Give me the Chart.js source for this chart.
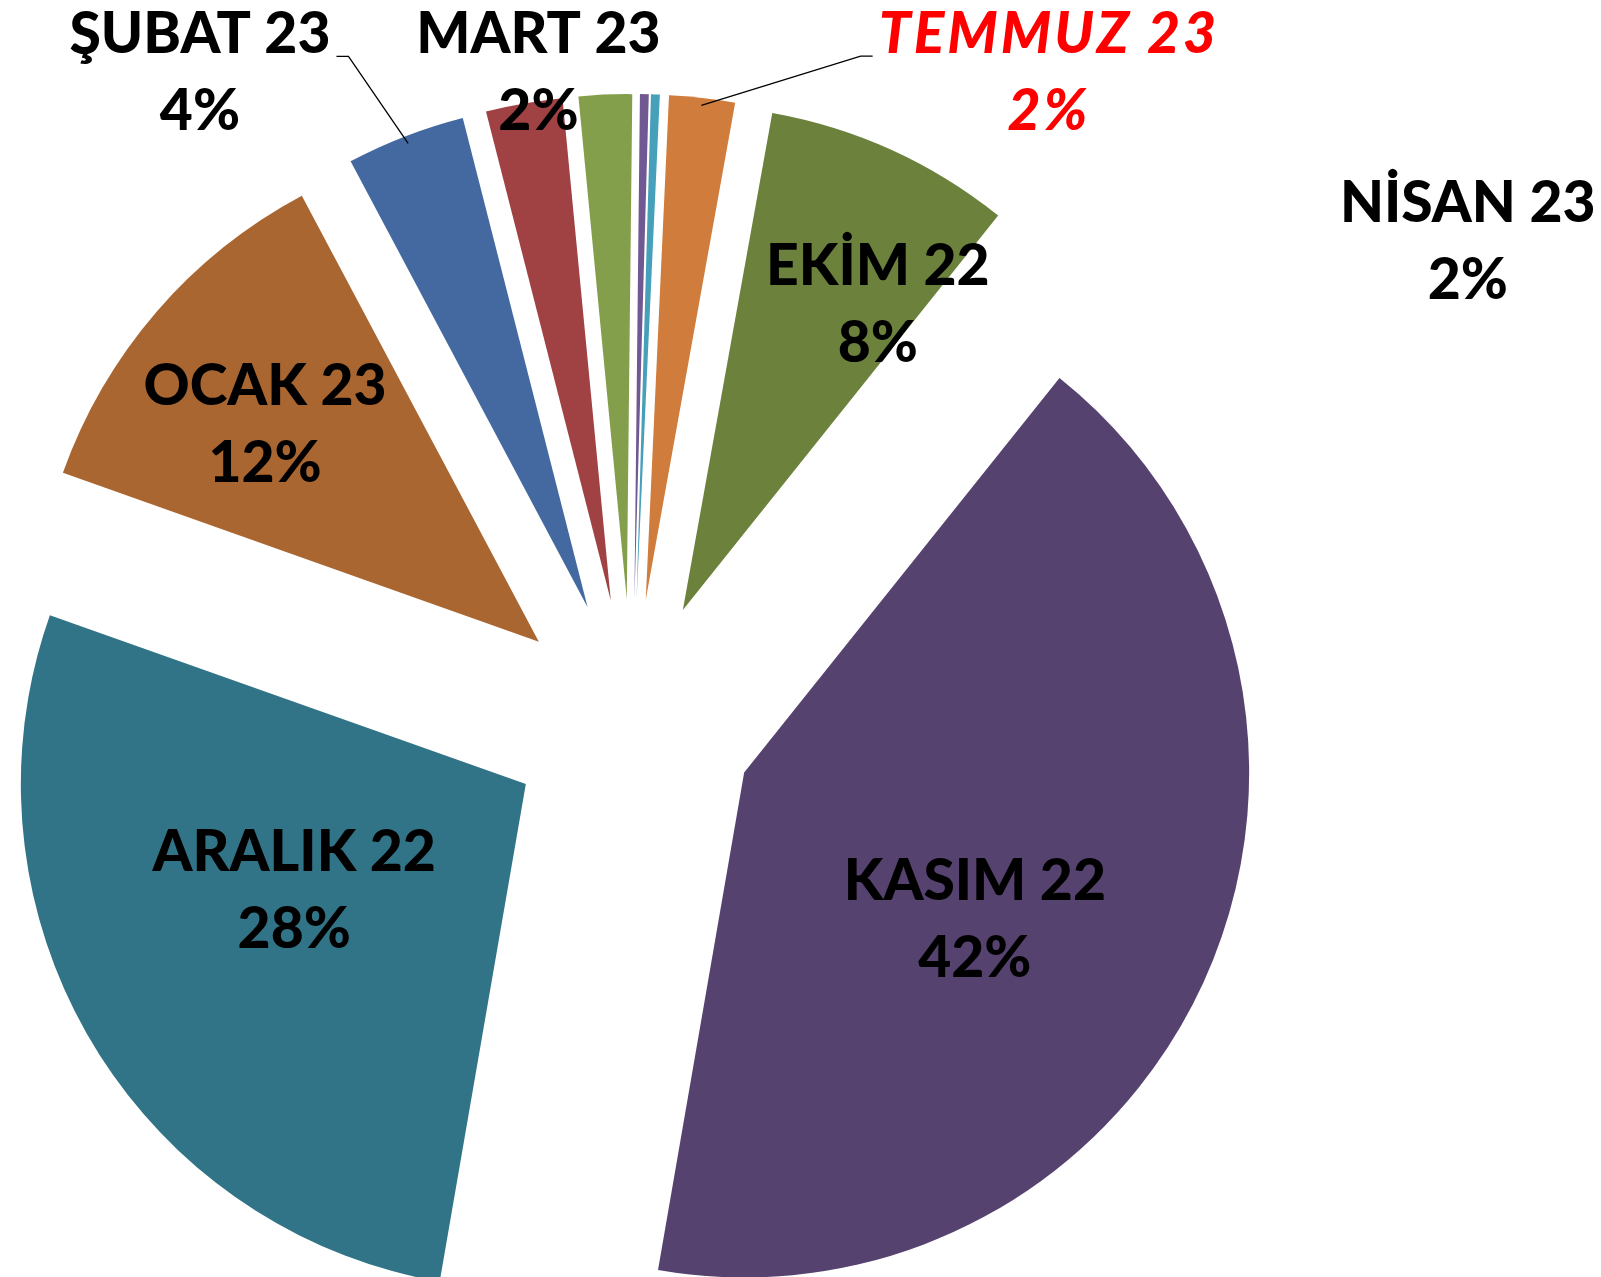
<!DOCTYPE html>
<html>
<head>
<meta charset="utf-8">
<script src="https://cdn.jsdelivr.net/npm/chart.js@4.4.0/dist/chart.umd.min.js"></script>
<style>
    html, body { margin: 0; padding: 0; background: #fff; }
</style>
</head>
<body>
<canvas id="myChart" width="1601" height="1277"></canvas>
<script>
// aylar (saat yönünde, EKİM'den başlayarak)
const months = ['EKİM 22', 'KASIM 22', 'ARALIK 22', 'OCAK 23', 'ŞUBAT 23', 'MART 23', 'NİSAN 23', 'MAYIS 23', 'HAZİRAN 23', 'TEMMUZ 23'];
const shares = [7.9, 42.0, 27.7, 11.8, 3.8, 2.45, 1.7, 0.28, 0.28, 2.1];
const sliceColors = ['#6B813C', '#55426F', '#327487', '#AA6630', '#4369A0', '#A04244', '#849F4B', '#705892', '#46A0BA', '#D07C3C'];

const EXPLODE = 123;   // dilimlerin merkezden kayması (px)
const LINE_GAP = 77;
const FONT = '900 57px Lato';

// etiket yerleşimi: açı (tepeden saat yönünde, derece), merkezden uzaklık (yarıçap oranı)
const labelLayout = [
    { name: 'EKİM 22', ang: 30.5, dist: 0.959 },
    { name: 'KASIM 22', ang: 120.0, dist: 0.784 },
    { name: 'ARALIK 22', ang: 243.4, dist: 0.748 },
    { name: 'OCAK 23', ang: 309.0, dist: 0.935 },
    { name: 'ŞUBAT 23', ang: 326.35, dist: 1.544, leader: 1 },
    { name: 'MART 23', ang: 351.8, dist: 1.299 },
    { name: 'NİSAN 23', ang: 60.16, dist: 1.908 },
    { name: 'TEMMUZ 23', ang: 32.7, dist: 1.528, leader: -1, color: '#FF0000', italic: true, spacing: '3px' }
];

// patlatılmış dilim: her dilim kendi orta açısı yönünde sabit miktarda kayar
Chart.ArcElement.prototype.draw = function (c) {
    const o = this.options;
    if (!this.circumference) return;
    const mid = (this.startAngle + this.endAngle) / 2;
    c.save();
    c.translate(Math.cos(mid) * o.offset, Math.sin(mid) * o.offset);
    c.beginPath();
    c.moveTo(this.x, this.y);
    c.arc(this.x, this.y, this.outerRadius, this.startAngle, this.endAngle);
    c.closePath();
    c.fillStyle = o.backgroundColor;
    c.fill();
    c.restore();
};

const sliceLabels = {
    id: 'sliceLabels',
    afterDatasetsDraw(chart) {
        const c = chart.ctx;
        const arcs = chart.getDatasetMeta(0).data;
        const total = shares.reduce((a, b) => a + b, 0);
        c.save();
        c.textAlign = 'center';
        c.textBaseline = 'middle';
        labelLayout.forEach((l) => {
            const i = months.indexOf(l.name);
            const arc = arcs[i];
            const R = arc.outerRadius;
            const a = l.ang * Math.PI / 180;
            const x = arc.x + Math.sin(a) * R * l.dist;
            const y = arc.y - Math.cos(a) * R * l.dist;
            c.font = (l.italic ? 'italic ' : '') + FONT;
            c.letterSpacing = l.spacing || '0px';
            c.fillStyle = l.color || '#000';
            c.fillText(months[i], x, y - LINE_GAP / 2);
            c.fillText(Math.round(shares[i] / total * 100) + '%', x, y + LINE_GAP / 2);
            if (l.leader) {
                const w = c.measureText(months[i]).width;
                const y0 = y - LINE_GAP / 2 + 22;
                const x0 = x + l.leader * (w / 2 + 6);
                const x1 = x0 + l.leader * 12;
                const mid = (arc.startAngle + arc.endAngle) / 2;
                const sx = arc.x + Math.cos(mid) * (EXPLODE + R * 0.985);
                const sy = arc.y + Math.sin(mid) * (EXPLODE + R * 0.985);
                c.beginPath();
                c.moveTo(x0, y0);
                c.lineTo(x1, y0);
                c.lineTo(sx, sy);
                c.strokeStyle = '#000';
                c.lineWidth = 1.3;
                c.stroke();
            }
        });
        c.restore();
    }
};

const ctx = document.getElementById('myChart');
new Chart(ctx, {
    type: 'pie',
    data: {
        labels: months,
        datasets: [{
            data: shares,
            backgroundColor: sliceColors,
            borderWidth: 0,
            offset: EXPLODE
        }]
    },
    options: {
        responsive: false,
        animation: false,
        events: [],
        rotation: 10.2,
        radius: 505,
        layout: { padding: { left: 0, right: 337, top: 167, bottom: 0 } },
        plugins: {
            legend: { display: false },
            tooltip: { enabled: false }
        }
    },
    plugins: [sliceLabels]
});
</script>
</body>
</html>
